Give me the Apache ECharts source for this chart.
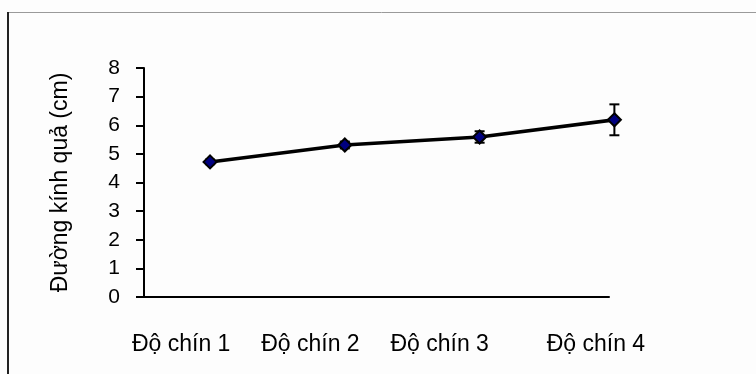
<!DOCTYPE html>
<html>
<head>
<meta charset="utf-8">
<script src="https://cdn.jsdelivr.net/npm/echarts@6/dist/echarts.min.js"></script>
<style>
html,body{margin:0;padding:0;background:#fdfdfd;}
#chart{width:756px;height:374px;}
</style>
</head>
<body>
<div id="chart"></div>
<script>
const categories = ['Độ chín 1', 'Độ chín 2', 'Độ chín 3', 'Độ chín 4'];
const means = [4.72, 5.31, 5.59, 6.19];
const errors = [0.08, 0.12, 0.2, 0.54];
const yTickLabels = ['0', '1', '2', '3', '4', '5', '6', '7', '8'];
const yTitle = 'Đường kính quả (cm)';

const font = 'Liberation Sans';
const labelShift = [-21, -8, 5, 45];
const rich = {};
labelShift.forEach((s, i) => {
  const pad = s < 0 ? [0, -2 * s, 0, 0] : [0, 0, 0, 2 * s];
  rich['s' + i] = { padding: pad, fontSize: 23, fontFamily: font, color: '#000' };
});

const chart = echarts.init(document.getElementById('chart'), null, { renderer: 'canvas' });
chart.setOption({
  backgroundColor: '#fdfdfd',
  animation: false,
  graphic: [
    { type: 'line', shape: { x1: 7, y1: 12.5, x2: 756, y2: 12.5 }, style: { stroke: '#9a9a9a', lineWidth: 1 } },
    { type: 'line', shape: { x1: 8, y1: 12, x2: 8, y2: 374 }, style: { stroke: '#222', lineWidth: 2 } }
  ],
  grid: { left: 144, right: 147, top: 68, bottom: 77 },
  xAxis: [
    {
      type: 'category',
      data: categories,
      boundaryGap: true,
      axisLine: { lineStyle: { color: '#000', width: 2 } },
      axisTick: { alignWithLabel: true, length: 4, lineStyle: { color: '#000', width: 2 } },
      axisLabel: {
        margin: 36,
        formatter: (v, i) => '{s' + i + '|' + v + '}',
        rich: rich
      }
    },
    { type: 'value', min: 0.51, max: 3.96, show: false }
  ],
  yAxis: {
    type: 'value',
    min: 0, max: 8, interval: 1,
    name: yTitle,
    nameLocation: 'middle',
    nameGap: 72,
    nameRotate: 90,
    nameTextStyle: { fontSize: 23, fontFamily: font, color: '#000' },
    axisLine: { show: true, lineStyle: { color: '#000', width: 2 } },
    axisTick: { show: true, length: 8, lineStyle: { color: '#000', width: 2 } },
    splitLine: { show: false },
    axisLabel: {
      margin: 24, fontSize: 21, fontFamily: font, color: '#000',
      formatter: v => yTickLabels[Math.round(v)]
    }
  },
  series: [
    {
      type: 'custom',
      xAxisIndex: 1,
      z: 1,
      clip: false,
      data: means.map((m, i) => [i + 1, m, errors[i]]),
      renderItem: (params, api) => {
        const x = api.value(0), y = api.value(1), e = api.value(2);
        const t = api.coord([x, y + e]);
        const b = api.coord([x, y - e]);
        const hw = 5;
        const st = { stroke: '#000', lineWidth: 2 };
        return {
          type: 'group',
          children: [
            { type: 'line', shape: { x1: t[0], y1: t[1], x2: b[0], y2: b[1] }, style: st },
            { type: 'line', shape: { x1: t[0] - hw, y1: t[1], x2: t[0] + hw, y2: t[1] }, style: st },
            { type: 'line', shape: { x1: b[0] - hw, y1: b[1], x2: b[0] + hw, y2: b[1] }, style: st }
          ]
        };
      }
    },
    {
      type: 'line',
      xAxisIndex: 1,
      z: 3,
      clip: false,
      data: means.map((m, i) => [i + 1, m]),
      symbol: 'diamond',
      symbolSize: 13,
      itemStyle: { color: '#000080', borderColor: '#000', borderWidth: 2 },
      lineStyle: { color: '#000', width: 3.5 }
    }
  ]
});
</script>
</body>
</html>
